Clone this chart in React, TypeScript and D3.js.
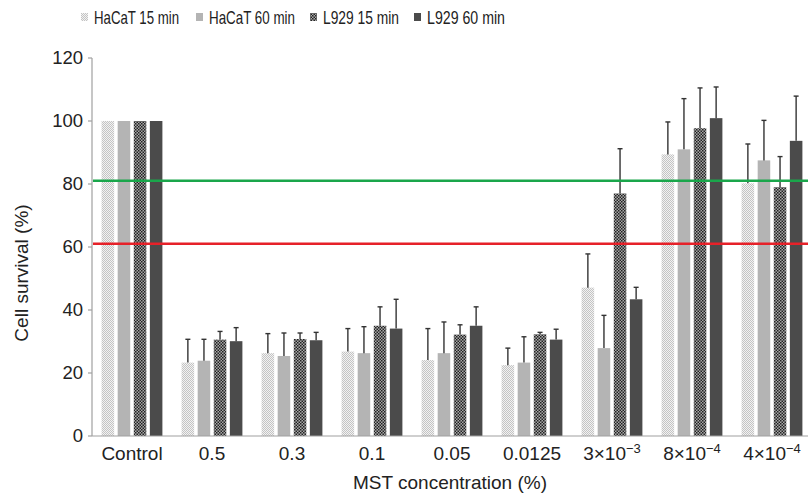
import React from 'react';
import * as d3 from 'd3';

const categories = ['Control', '0.5', '0.3', '0.1', '0.05', '0.0125', '3e-3', '8e-4', '4e-4'];
const categoryLabels = [
  { base: 'Control', exp: '' },
  { base: '0.5', exp: '' },
  { base: '0.3', exp: '' },
  { base: '0.1', exp: '' },
  { base: '0.05', exp: '' },
  { base: '0.0125', exp: '' },
  { base: '3×10', exp: '−3' },
  { base: '8×10', exp: '−4' },
  { base: '4×10', exp: '−4' },
];
const seriesNames = ['HaCaT 15 min', 'HaCaT 60 min', 'L929 15 min', 'L929 60 min'];

// mean values per concentration
const hacat15 = [100, 23.3, 26.3, 26.8, 24.1, 22.5, 47.1, 89.4, 80.2];
const hacat60 = [100, 23.9, 25.4, 26.3, 26.3, 23.3, 27.9, 91.0, 87.5];
const l92915 = [100, 30.6, 30.8, 35.0, 32.2, 32.3, 77.0, 97.7, 79.0];
const l92960 = [100, 30.1, 30.4, 34.1, 35.0, 30.6, 43.4, 100.9, 93.7];

// upper error (SD)
const hacat15Err = [0, 7.4, 6.2, 7.3, 10.0, 5.4, 10.7, 10.3, 12.5];
const hacat60Err = [0, 6.8, 7.3, 8.4, 9.9, 8.2, 10.4, 16.1, 12.7];
const l92915Err = [0, 2.6, 1.9, 6.0, 3.1, 0.6, 14.2, 12.8, 9.7];
const l92960Err = [0, 4.3, 2.5, 9.3, 6.0, 3.3, 3.8, 9.9, 14.2];

const thresholds = [
  { value: 81, color: '#1aa64b' },
  { value: 61, color: '#e62129' },
];
const yTicks = [0, 20, 40, 60, 80, 100, 120];

const series = [
  { name: seriesNames[0], values: hacat15, errs: hacat15Err, fill: 'url(#patLight)' },
  { name: seriesNames[1], values: hacat60, errs: hacat60Err, fill: '#b4b4b4' },
  { name: seriesNames[2], values: l92915, errs: l92915Err, fill: 'url(#patDark)' },
  { name: seriesNames[3], values: l92960, errs: l92960Err, fill: '#4b4b4b' },
];

const W = 808;
const H = 493;
const font = '"Liberation Sans", Arial, Helvetica, sans-serif';

export default function App() {
  const x = d3.scaleBand<string>().domain(categories).range([92, 812]).paddingInner(0.24).paddingOuter(0.12);
  const xs = d3.scaleBand<string>().domain(seriesNames).range([0, x.bandwidth()]).paddingInner(0.22);
  const y = d3.scaleLinear().domain([0, 120]).range([436, 58]);

  // legend marker x and text width (the original font is narrow)
  const legendX = [81, 196, 310, 414];
  const legendW = [85, 86, 76, 78];

  return (
    <svg width={W} height={H} style={{ position: 'absolute', left: 0, top: 0, background: '#fff' }} fontFamily={font}>
      <defs>
        <pattern id="patLight" width="2" height="2" patternUnits="userSpaceOnUse">
          <rect width="2" height="2" fill="#f2f2f2" />
          <rect width="1" height="1" fill="#c4c4c4" />
          <rect x="1" y="1" width="1" height="1" fill="#c4c4c4" />
        </pattern>
        <pattern id="patDark" width="3" height="3" patternUnits="userSpaceOnUse">
          <rect width="3" height="3" fill="#a8a8a8" />
          <rect width="1.5" height="1.5" fill="#222" />
          <rect x="1.5" y="1.5" width="1.5" height="1.5" fill="#222" />
        </pattern>
      </defs>

      {/* legend */}
      {series.map((s, i) => (
        <g key={s.name}>
          <rect x={legendX[i]} y={13} width={7} height={8} fill={s.fill} />
          <text x={legendX[i] + 13} y={24} fontSize={18.5} fill="#222" textLength={legendW[i]} lengthAdjust="spacingAndGlyphs">{s.name}</text>
        </g>
      ))}

      {/* bars */}
      {series.map((s) => (
        <g key={s.name}>
          {categories.map((c, j) => {
            const bx = (x(c) ?? 0) + (xs(s.name) ?? 0);
            const bw = xs.bandwidth();
            const cx = bx + bw / 2;
            const top = y(s.values[j]);
            const errTop = y(s.values[j] + s.errs[j]);
            return (
              <g key={c}>
                <rect x={bx} y={top} width={bw} height={y(0) - top} fill={s.fill} />
                {s.errs[j] > 0 && (
                  <g stroke="#333" strokeWidth={1.4}>
                    <line x1={cx} x2={cx} y1={top} y2={errTop} />
                    <line x1={cx - 2.5} x2={cx + 2.5} y1={errTop} y2={errTop} />
                  </g>
                )}
              </g>
            );
          })}
        </g>
      ))}

      {/* axes */}
      <line x1={92} x2={92} y1={y(120)} y2={y(0)} stroke="#a0a0a0" strokeWidth={1.2} />
      <line x1={92} x2={808} y1={y(0)} y2={y(0)} stroke="#a0a0a0" strokeWidth={1.2} />
      {yTicks.map((t) => (
        <g key={t}>
          <line x1={88} x2={92} y1={y(t)} y2={y(t)} stroke="#a0a0a0" strokeWidth={1.2} />
          <text x={83} y={y(t)} dy="0.35em" textAnchor="end" fontSize={18.5} fill="#222">{t}</text>
        </g>
      ))}

      {/* threshold lines */}
      {thresholds.map((t) => (
        <line key={t.value} x1={93} x2={808} y1={y(t.value)} y2={y(t.value)} stroke={t.color} strokeWidth={2.5} />
      ))}

      {categories.map((c, j) => (
        <text key={c} x={(x(c) ?? 0) + x.bandwidth() / 2} y={460} textAnchor="middle" fontSize={19} fill="#222">
          {categoryLabels[j].base}
          {categoryLabels[j].exp && (
            <tspan fontSize={13} dy={-7}>{categoryLabels[j].exp}</tspan>
          )}
        </text>
      ))}

      <text x={450} y={489} textAnchor="middle" fontSize={19} fill="#222">MST concentration (%)</text>
      <text transform={`translate(28,${y(60) + 26}) rotate(-90)`} textAnchor="middle" fontSize={19} fill="#222">Cell survival (%)</text>
    </svg>
  );
}
